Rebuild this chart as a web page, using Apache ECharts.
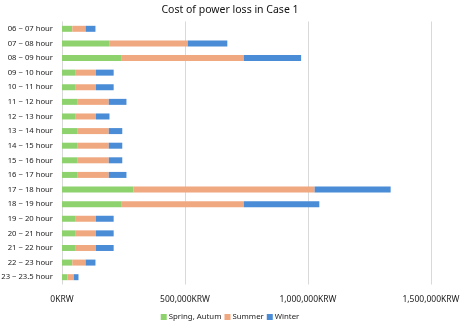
<!DOCTYPE html>
<html>
<head>
<meta charset="utf-8">
<style>
  html, body { margin: 0; padding: 0; background: #fff; }
  #chart { width: 460px; height: 323px; }
</style>
<script src="https://cdn.jsdelivr.net/npm/echarts@6/dist/echarts.min.js"></script>
</head>
<body>
<div id="chart"></div>
<script>
  // hour slots, top to bottom as drawn
  var hours = ['06 ~ 07 hour', '07 ~ 08 hour', '08 ~ 09 hour', '09 ~ 10 hour', '10 ~ 11 hour',
    '11 ~ 12 hour', '12 ~ 13 hour', '13 ~ 14 hour', '14 ~ 15 hour', '15 ~ 16 hour',
    '16 ~ 17 hour', '17 ~ 18 hour', '18 ~ 19 hour', '19 ~ 20 hour', '20 ~ 21 hour',
    '21 ~ 22 hour', '22 ~ 23 hour', '23 ~ 23.5 hour']

  // cost in KRW
  var springAutum = [42000, 194000, 243000, 56000, 56000, 64000, 56000, 64000, 64000, 64000,
    64000, 291000, 243000, 56000, 56000, 56000, 42000, 22000]
  var summer = [54000, 317000, 496000, 82000, 82000, 126000, 82000, 126000, 126000, 126000,
    126000, 736000, 496000, 82000, 82000, 82000, 54000, 26000]
  var winter = [40000, 161000, 233000, 72000, 72000, 72000, 55000, 55000, 55000, 55000,
    72000, 309000, 307000, 72000, 72000, 72000, 40000, 19000]

  var xTicks = [0, 500000, 1000000, 1500000]

  var myChart = echarts.init(document.getElementById('chart'))

  function fmt(v) {
    return v.toString().replace(/\B(?=(\d{3})+(?!\d))/g, ',') + 'KRW'
  }

  function bar(name, data, color) {
    return {
      name: name,
      type: 'bar',
      stack: 'cost',
      barWidth: 6,
      itemStyle: { color: color },
      data: data
    }
  }

  var option = {
    backgroundColor: '#fff',
    textStyle: { fontFamily: 'Noto Sans', color: '#222' },
    title: {
      text: 'Cost of power loss in Case 1',
      left: 'center',
      top: 0,
      textStyle: { fontSize: 10.5, fontWeight: 'normal', color: '#111', fontFamily: 'Noto Sans' }
    },
    legend: {
      top: 308,
      left: 'center',
      itemWidth: 6,
      itemHeight: 6,
      itemGap: 3,
      icon: 'rect',
      textStyle: { fontSize: 7.8, color: '#222', padding: [0, 0, 0, -3] },
      data: ['Spring, Autum', 'Summer', 'Winter']
    },
    grid: {
      left: 62,
      right: 29,
      top: 21.5,
      bottom: 38.5,
      outerBoundsMode: 'none',
      containLabel: false
    },
    xAxis: {
      type: 'value',
      min: xTicks[0],
      max: xTicks[xTicks.length - 1],
      interval: 500000,
      axisLine: { show: false },
      axisTick: { show: false },
      splitLine: { lineStyle: { color: '#d9d9d9', width: 1 } },
      axisLabel: {
        fontSize: 8.5,
        color: '#222',
        margin: 11,
        formatter: fmt
      }
    },
    yAxis: {
      type: 'category',
      inverse: true,
      data: hours,
      axisLine: { show: false },
      axisTick: { show: false },
      axisLabel: { fontSize: 7.7, color: '#222', margin: 9 }
    },
    series: [
      bar('Spring, Autum', springAutum, '#8ed26e'),
      bar('Summer', summer, '#f0a880'),
      bar('Winter', winter, '#4a8cd6')
    ]
  }
  myChart.setOption(option)
</script>
</body>
</html>
